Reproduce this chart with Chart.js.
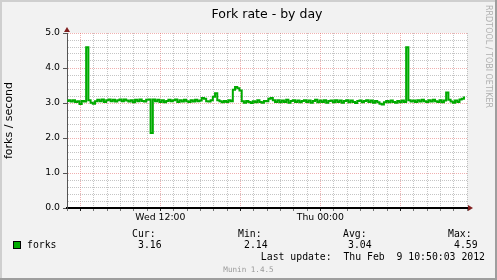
<!DOCTYPE html>
<html>
<head>
<meta charset="utf-8">
<title>Fork rate - by day</title>
<script src="https://cdn.jsdelivr.net/npm/chart.js@4.4.1/dist/chart.umd.min.js"></script>
<style>
  html, body { margin: 0; padding: 0; background: #F2F2F2; }
  canvas { display: block; }
</style>
</head>
<body>
<canvas id="forkChart" width="497" height="280"></canvas>
<script>
// Du lieu: mot diem moi 10 phut, bat dau luc Wed 04:54
const startHour = 4.9;
const stepHours = 1 / 6;
const forkValues = [
  3.06, 3.08, 3.04, 3.08, 3.03, 3.05, 2.97, 3.06, 3.04, 4.59, 3.08, 3.01,
  2.98, 3.05, 3.09, 3.05, 3.10, 3.03, 3.08, 3.10, 3.05, 3.09, 3.04, 3.08,
  3.10, 3.05, 3.10, 3.07, 3.04, 3.08, 3.02, 3.09, 3.05, 3.10, 3.06, 3.04,
  3.09, 3.10, 2.14, 3.10, 3.05, 3.09, 3.03, 3.08, 3.02, 3.06, 3.09, 3.05,
  3.08, 3.10, 3.03, 3.08, 3.04, 3.09, 3.05, 3.03, 3.08, 3.04, 3.09, 3.05,
  3.07, 3.14, 3.12, 3.05, 3.04, 3.08, 3.18, 3.28, 3.08, 3.05, 3.02, 3.06,
  3.03, 3.08, 3.05, 3.38, 3.46, 3.42, 3.36, 3.05, 3.01, 3.06, 3.03, 3.00,
  3.05, 3.02, 3.08, 3.03, 3.01, 3.06, 3.05, 3.12, 3.14, 3.08, 3.03, 3.08,
  3.02, 3.07, 3.03, 3.09, 3.01, 3.06, 3.08, 3.03, 3.07, 3.02, 3.06, 3.08,
  3.03, 3.07, 3.01, 3.06, 3.09, 3.02, 3.07, 3.03, 3.08, 3.01, 3.06, 3.07,
  3.02, 3.08, 3.03, 3.07, 3.01, 3.06, 3.08, 3.02, 3.07, 3.03, 3.00, 3.06,
  3.07, 3.02, 3.06, 3.08, 3.03, 3.07, 3.01, 3.06, 3.02, 2.98, 2.96, 3.02,
  3.06, 3.02, 3.07, 3.03, 3.01, 3.06, 3.02, 3.07, 3.03, 4.59, 3.08, 3.04,
  3.07, 3.03, 3.08, 3.04, 3.09, 3.05, 3.03, 3.08, 3.04, 3.09, 3.05, 3.03,
  3.08, 3.02, 3.07, 3.30, 3.09, 3.04, 3.01, 3.07, 3.03, 3.10, 3.12, 3.16
];

// Nhan truc x (gio tinh tu Wed 00:00)
const xTickLabels = { 12: 'Wed 12:00', 24: 'Thu 00:00' };

// Bang chu thich
const legendName = 'forks';
const statHeaders = ['Cur:', 'Min:', 'Avg:', 'Max:'];
const statValues = ['3.16', '2.14', '3.04', '4.59'];
const lastUpdate = 'Last update:  Thu Feb  9 10:50:03 2012';

const LINE_COLOR = '#00AA00';
const MINOR_GRID = 'rgba(150,150,150,0.55)';
const MAJOR_GRID = 'rgba(222,79,79,0.45)';

const points = forkValues.map((v, i) => ({ x: startHour + i * stepHours, y: v }));

// Ve nen, khung va chu kieu RRDtool
const muninFrame = {
  id: 'muninFrame',
  beforeDraw(chart) {
    const ctx = chart.ctx;
    const w = chart.width, h = chart.height;
    const a = chart.chartArea;
    ctx.save();
    ctx.fillStyle = '#F2F2F2';
    ctx.fillRect(0, 0, w, h);
    // bong khung
    ctx.fillStyle = '#CFCFCF';
    ctx.fillRect(0, 0, w, 2);
    ctx.fillRect(0, 0, 2, h);
    ctx.fillStyle = '#9E9E9E';
    ctx.fillRect(0, h - 2, w, 2);
    ctx.fillRect(w - 2, 0, 2, h);
    // vung ve trang
    ctx.fillStyle = '#FFFFFF';
    ctx.fillRect(a.left, a.top, a.right - a.left, a.bottom - a.top);
    ctx.restore();
  },
  afterDraw(chart) {
    const ctx = chart.ctx;
    const a = chart.chartArea;
    ctx.save();

    // mui ten truc
    ctx.fillStyle = '#801F1F';
    ctx.strokeStyle = '#000';
    ctx.lineWidth = 2;
    ctx.beginPath();
    ctx.moveTo(a.right, a.bottom);
    ctx.lineTo(a.right + 2, a.bottom);
    ctx.stroke();
    ctx.beginPath();
    ctx.moveTo(a.right + 1, a.bottom - 3);
    ctx.lineTo(a.right + 6, a.bottom);
    ctx.lineTo(a.right + 1, a.bottom + 3);
    ctx.closePath();
    ctx.fill();
    ctx.beginPath();
    ctx.moveTo(a.left - 3, a.top - 1);
    ctx.lineTo(a.left, a.top - 6);
    ctx.lineTo(a.left + 3, a.top - 1);
    ctx.closePath();
    ctx.fill();

    // tieu de
    ctx.fillStyle = '#000';
    ctx.font = '12.5px "DejaVu Sans"';
    ctx.textAlign = 'center';
    ctx.textBaseline = 'alphabetic';
    ctx.fillText('Fork rate - by day', (a.left + a.right) / 2, 18);

    // watermark
    ctx.save();
    ctx.translate(488, 5);
    ctx.rotate(Math.PI / 2);
    ctx.fillStyle = '#B0B0B0';
    ctx.font = '8px "DejaVu Sans"';
    ctx.textAlign = 'left';
    ctx.textBaseline = 'middle';
    ctx.fillText('RRDTOOL / TOBI OETIKER', 0, 0);
    ctx.restore();

    // chu thich
    ctx.fillStyle = LINE_COLOR;
    ctx.fillRect(13, 241, 8, 8);
    ctx.strokeStyle = '#000';
    ctx.lineWidth = 1;
    ctx.strokeRect(13.5, 241.5, 7, 7);

    ctx.fillStyle = '#000';
    ctx.font = '9.8px "DejaVu Sans Mono"';
    ctx.textAlign = 'left';
    ctx.fillText(legendName, 27, 248);
    const headerX = [132, 238, 343, 448];
    const valueX = [138, 244, 348, 454];
    statHeaders.forEach((t, i) => ctx.fillText(t, headerX[i], 237));
    statValues.forEach((t, i) => ctx.fillText(t, valueX[i], 248));
    ctx.textAlign = 'right';
    ctx.fillText(lastUpdate, 485, 260);

    ctx.fillStyle = '#999999';
    ctx.font = '7.6px "DejaVu Sans Mono"';
    ctx.textAlign = 'center';
    ctx.fillText('Munin 1.4.5', 248.5, 272);
    ctx.restore();
  }
};

function isWhole(v) {
  return Math.abs(v - Math.round(v)) < 1e-6;
}

const ctx = document.getElementById('forkChart').getContext('2d');
new Chart(ctx, {
  type: 'line',
  data: {
    datasets: [{
      label: legendName,
      data: points,
      borderColor: LINE_COLOR,
      borderWidth: 2,
      pointRadius: 0,
      stepped: 'middle',
      fill: false
    }]
  },
  options: {
    responsive: false,
    animation: false,
    layout: { padding: { left: 0, top: 33, right: 30, bottom: 0 } },
    plugins: {
      legend: { display: false },
      tooltip: { enabled: false },
      title: { display: false }
    },
    scales: {
      x: {
        type: 'linear',
        min: 4.88,
        max: 34.88,
        afterFit: s => { s.height = 72; },
        ticks: {
          stepSize: 1,
          includeBounds: false,
          autoSkip: false,
          maxRotation: 0,
          padding: 1.5,
          color: '#000',
          font: { family: 'DejaVu Sans', size: 9.3 },
          callback: v => xTickLabels[Math.round(v)] || ''
        },
        grid: {
          color: c => (c.tick && Math.round(c.tick.value) % 6 === 0) ? MAJOR_GRID : MINOR_GRID,
          lineWidth: 1,
          tickLength: 3,
          tickColor: c => (c.tick && Math.round(c.tick.value) % 6 === 0) ? '#222' : '#777'
        },
        border: { color: '#000', width: 2, dash: [1, 1] }
      },
      y: {
        min: 0,
        max: 5,
        afterFit: s => { s.width = 67; },
        ticks: {
          stepSize: 0.2,
          autoSkip: false,
          padding: 3,
          color: '#000',
          font: { family: 'DejaVu Sans', size: 9.3 },
          callback: v => isWhole(v) ? Number(v).toFixed(1) : ''
        },
        grid: {
          color: c => (c.tick && isWhole(c.tick.value)) ? MAJOR_GRID : MINOR_GRID,
          lineWidth: 1,
          tickLength: 4,
          tickColor: c => (c.tick && isWhole(c.tick.value)) ? '#555' : 'rgba(0,0,0,0)'
        },
        border: { color: '#555', width: 1, dash: [1, 1] },
        title: {
          display: true,
          text: 'forks / second',
          color: '#000',
          font: { family: 'DejaVu Sans', size: 11 },
          padding: { top: 2.5, bottom: 0 }
        }
      }
    }
  },
  plugins: [muninFrame]
});
</script>
</body>
</html>
